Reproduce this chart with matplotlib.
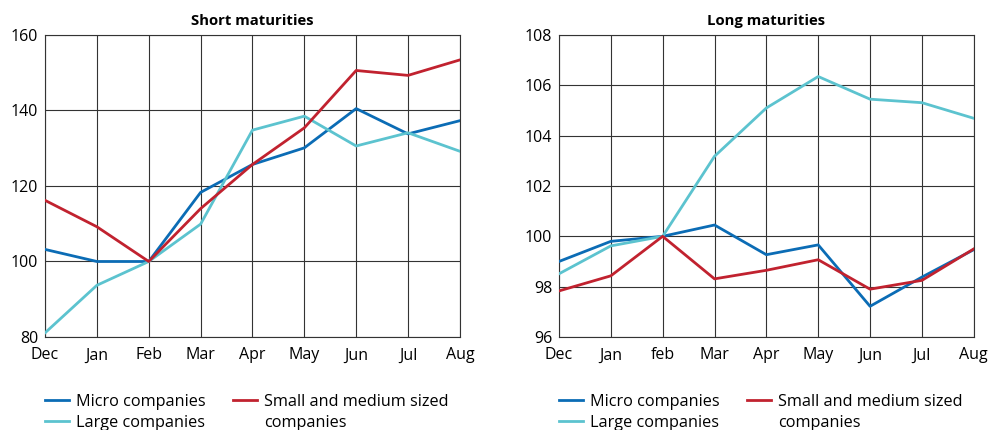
import matplotlib.pyplot as plt
from matplotlib.lines import Line2D
import numpy as np

months_short = ['Dec', 'Jan', 'Feb', 'Mar', 'Apr', 'May', 'Jun', 'Jul', 'Aug']
months_long = ['Dec', 'Jan', 'feb', 'Mar', 'Apr', 'May', 'Jun', 'Jul', 'Aug']

short_micro = [103.2, 100.0, 100.0, 118.3, 125.7, 130.1, 140.5, 133.8, 137.3]
short_sme = [116.2, 109.2, 100.0, 114.0, 125.7, 135.4, 150.6, 149.3, 153.4]
short_large = [81.1, 93.7, 100.0, 109.9, 134.8, 138.5, 130.6, 134.1, 129.2]

long_micro = [99.0, 99.8, 100.0, 100.45, 99.27, 99.66, 97.22, 98.38, 99.47]
long_sme = [97.83, 98.43, 100.0, 98.31, 98.65, 99.07, 97.9, 98.25, 99.5]
long_large = [98.51, 99.62, 100.0, 103.18, 105.1, 106.35, 105.45, 105.31, 104.69]

BLUE = '#0b6cb5'
RED = '#c1222f'
CYAN = '#5cc3cf'

plt.rcParams['font.family'] = ['Open Sans', 'DejaVu Sans']


def draw(ax, title, months, micro, sme, large, ylim, step):
    x = np.arange(len(months))
    l1, = ax.plot(x, micro, color=BLUE, lw=2.0, zorder=3)
    l2, = ax.plot(x, large, color=CYAN, lw=2.0, zorder=3)
    l3, = ax.plot(x, sme, color=RED, lw=2.0, zorder=3)
    ax.set_xlim(0, len(months) - 1)
    ax.set_ylim(*ylim)
    ax.set_xticks(x)
    ax.set_xticklabels(months)
    ax.set_yticks(np.arange(ylim[0], ylim[1] + 0.1, step))
    ax.tick_params(length=0, labelsize=11.5)
    ax.tick_params(axis='x', pad=7.5)
    ax.tick_params(axis='y', pad=5)
    ax.grid(True, color='#333333', lw=0.8)
    for s in ax.spines.values():
        s.set_color('#333333')
        s.set_linewidth(0.8)
    ax.set_title(title, fontsize=10.7, fontweight='bold', pad=7)
    # second line of the red label sits under it with an empty handle
    blank = Line2D([], [], lw=0, color='none')
    ax.legend([l1, l2, l3, blank],
              ['Micro companies', 'Large companies',
               'Small and medium sized', 'companies'],
              loc='upper left', bbox_to_anchor=(0.0, -0.188), ncol=2,
              frameon=False, fontsize=11.7, handlelength=1.45, handletextpad=0.45,
              columnspacing=1.7, labelspacing=0.3, borderaxespad=0, borderpad=0)


fig = plt.figure(figsize=(9.9, 4.3), dpi=100)
ax1 = fig.add_axes([0.0455, 0.2163, 0.419, 0.7023])
ax2 = fig.add_axes([0.5646, 0.2163, 0.419, 0.7023])
draw(ax1, 'Short maturities', months_short, short_micro, short_sme, short_large, (80, 160), 20)
draw(ax2, 'Long maturities', months_long, long_micro, long_sme, long_large, (96, 108), 2)
fig.savefig('out.png', dpi=100)
